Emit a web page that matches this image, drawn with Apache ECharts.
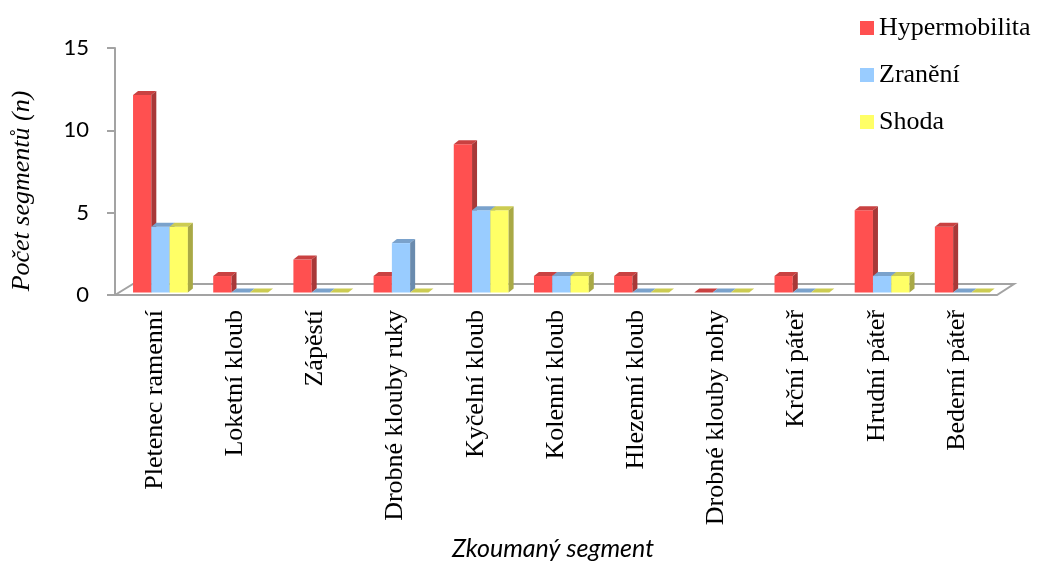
<!DOCTYPE html>
<html>
<head>
<meta charset="utf-8">
<script src="https://cdn.jsdelivr.net/npm/echarts@6/dist/echarts.min.js"></script>
<style>
  html, body { margin: 0; padding: 0; background: #fff; }
  #chart { width: 1038px; height: 561px; }
</style>
</head>
<body>
<div id="chart"></div>
<script>
// Segments examined and counts per segment
const categories = ['Pletenec ramenní', 'Loketní kloub', 'Zápěstí', 'Drobné klouby ruky', 'Kyčelní kloub',
  'Kolenní kloub', 'Hlezenní kloub', 'Drobné klouby nohy', 'Krční páteř', 'Hrudní páteř', 'Bederní páteř'];
const seriesNames = ['Hypermobilita', 'Zranění', 'Shoda'];
const hypermobilita = [12, 1, 2, 1, 9, 1, 1, 0, 1, 5, 4];
const zraneni = [4, 0, 0, 3, 5, 1, 0, 0, 0, 1, 0];
const shoda = [4, 0, 0, 0, 5, 1, 0, 0, 0, 1, 0];
const yMin = 0, yMax = 15, yStep = 5;

// Face colours for the pseudo-3D columns: front, top, right side
const palettes = [
  { front: '#FF5050', top: '#C94141', side: '#A83838' },
  { front: '#99CCFF', top: '#7AA2CC', side: '#6A8BAE' },
  { front: '#FFFF66', top: '#CCCC52', side: '#A9A946' }
];

const DX = 5, DY = 4;      // depth offset of column tops/sides
const LIFT = 2.5;          // columns stand slightly behind the floor's front edge
const BAR_FRAC = 0.228;    // column width as share of a category band
const START_FRAC = 0.225;  // first column offset inside the band

function columnRenderer(slot, pal) {
  return function (params, api) {
    const i = api.value(0);
    const v = api.value(1);
    const band = api.size([1, 0])[0];
    const base = api.coord([i, 0]);
    const tip = api.coord([i, v]);
    const w = band * BAR_FRAC;
    const x0 = base[0] - band / 2 + band * START_FRAC + slot * w;
    const x1 = x0 + w;
    const yb = base[1] - LIFT;
    const yt = tip[1] - LIFT;
    return {
      type: 'group',
      children: [
        { type: 'rect', shape: { x: x0, y: yt, width: w, height: yb - yt }, style: { fill: pal.front } },
        { type: 'polygon', shape: { points: [[x0, yt], [x1, yt], [x1 + DX, yt - DY], [x0 + DX, yt - DY]] }, style: { fill: pal.top } },
        { type: 'polygon', shape: { points: [[x1, yt], [x1 + DX, yt - DY], [x1 + DX, yb - DY], [x1, yb]] }, style: { fill: pal.side } }
      ]
    };
  };
}

// Floor plane under the columns
function floorRenderer(params, api) {
  const band = api.size([1, 0])[0];
  const first = api.coord([0, 0]);
  const last = api.coord([categories.length - 1, 0]);
  const L = first[0] - band / 2;
  const R = last[0] + band / 2;
  const y = first[1];
  return {
    type: 'polygon',
    shape: { points: [[L, y], [L + 18, y - 11], [R + 17, y - 11], [R, y]] },
    style: { fill: '#fff', stroke: '#A3A3A3', lineWidth: 2 }
  };
}

const valueSets = [hypermobilita, zraneni, shoda];
const series = [{
  type: 'custom', name: 'floor', z: 1, silent: true,
  renderItem: floorRenderer, data: [[0, 0]], encode: { x: 0, y: 1 }
}];
valueSets.forEach((vals, s) => {
  series.push({
    type: 'custom',
    name: seriesNames[s],
    z: 2 + s,
    itemStyle: { color: palettes[s].front },
    renderItem: columnRenderer(s, palettes[s]),
    data: vals.map((v, i) => [i, v]),
    encode: { x: 0, y: 1 }
  });
});

const chart = echarts.init(document.getElementById('chart'), null, { renderer: 'canvas' });
chart.setOption({
  backgroundColor: '#fff',
  animation: false,
  grid: { left: 115, right: 41, top: 48, bottom: 266, containLabel: false },
  legend: {
    data: seriesNames,
    orient: 'vertical',
    left: 855, top: 10,
    icon: 'rect',
    itemWidth: 14, itemHeight: 14, itemGap: 21,
    textStyle: { fontFamily: 'Liberation Serif', fontSize: 26, lineHeight: 26, color: '#000' }
  },
  xAxis: {
    type: 'category',
    data: categories,
    axisLine: { show: false },
    axisTick: { show: false },
    axisLabel: {
      interval: 0, rotate: 90, margin: 15,
      fontFamily: 'Liberation Serif', fontSize: 26, color: '#000'
    }
  },
  yAxis: {
    type: 'value',
    min: yMin, max: yMax, interval: yStep,
    axisLine: { show: true, lineStyle: { color: '#A3A3A3', width: 2 } },
    axisTick: { show: true, length: 8, lineStyle: { color: '#A3A3A3', width: 2 } },
    splitLine: { show: false },
    axisLabel: { margin: 26, fontFamily: 'Lato', fontSize: 22, color: '#000' }
  },
  graphic: [
    {
      type: 'text', x: 22, y: 191, rotation: Math.PI / 2,
      style: { text: 'Počet segmentů (n)', font: 'italic 26px "Liberation Serif"', fill: '#000', align: 'center', verticalAlign: 'middle' }
    },
    {
      type: 'text', x: 553, y: 549,
      style: { text: 'Zkoumaný segment', font: 'italic 25px Lato', fill: '#000', align: 'center', verticalAlign: 'middle' }
    }
  ],
  series: series
});
</script>
</body>
</html>
